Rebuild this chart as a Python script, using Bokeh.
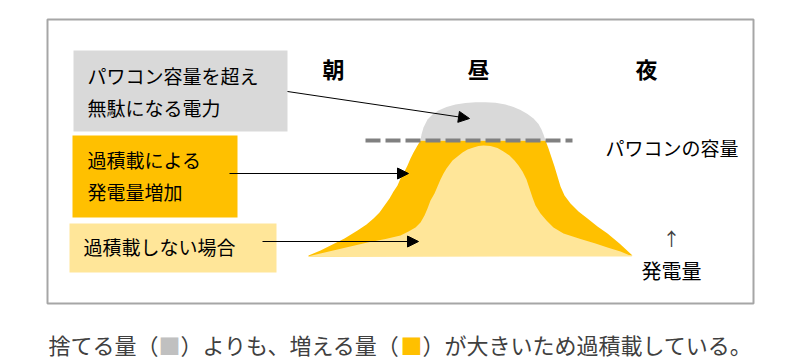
from bokeh.plotting import figure
from bokeh.models import Range1d, Arrow, NormalHead
from bokeh.core.properties import value
from bokeh.embed import file_html
from bokeh.resources import INLINE

FONT = "Noto Sans CJK JP"

# ---- data (diagram coordinates: x = time of day, y = screen-like height; larger y = lower) ----
BASE_Y = 256          # zero generation level
CAPACITY_Y = 140      # inverter (パワコン) capacity level

# over-loaded generation (left rising edge, right falling edge)
OVER_LEFT_X = [308, 320, 330, 344, 357, 366, 373, 379, 384, 389, 393, 397, 400, 404, 407, 410, 413, 417, 420]
OVER_LEFT_Y = [255, 250, 245, 238, 230, 224, 218, 212, 205, 198, 191, 185, 178, 171, 165, 158, 152, 145, 140]
OVER_RIGHT_X = [545, 548, 551, 554, 557, 560, 564, 570, 578, 587, 597, 607, 619, 632]
OVER_RIGHT_Y = [140, 148, 157, 166, 176, 186, 195, 203, 211, 218, 226, 233, 243, 255]

# part above the capacity (wasted)
CLIP_X = [420, 421, 423, 427, 432, 438, 446, 455, 465, 475, 485, 495, 505, 513,
          520, 527, 533, 538, 541, 543, 545]
CLIP_Y = [140, 134, 127, 119, 114, 110, 106.5, 104, 102.5, 101.8, 101.7, 102.3, 104, 106.5,
          109.5, 113.5, 118, 123.5, 129, 134, 140]

# generation without over-loading
NORMAL_X = [307, 337, 367, 385, 400, 408, 415, 420, 424, 427, 430, 434, 437, 440, 443, 446,
            449, 452, 457, 462, 467, 473, 478, 483, 490, 497, 503, 509, 514, 518, 522,
            526, 529, 532, 535, 540, 546, 553, 563, 580, 595, 607, 620, 632]
NORMAL_Y = [256, 249, 242, 238.5, 235, 231, 227, 222, 215, 208, 200, 193, 186, 179, 173, 168,
            164, 160, 156, 152, 149, 147, 145.5, 145, 145.5, 147.5, 151, 155, 160, 165, 171,
            179, 188, 197, 205, 213, 220, 227, 233, 238.5, 243, 247, 251, 256]

TIME_LABELS = ["朝", "昼", "夜"]
TIME_X = [333, 478, 646]

CAPTION_PARTS = ["捨てる量（", "■", "）よりも、増える量（", "■", "）が大きいため過積載している。"]
CAPTION_COLORS = ["#404040", "#c0c0c0", "#404040", "#ffc000", "#404040"]

ORANGE = "#ffc000"
YELLOW = "#ffe699"
GRAY = "#d9d9d9"

W, H = 780, 358
p = figure(width=W, height=H, output_backend="svg", toolbar_location=None,
           x_range=Range1d(0, W), y_range=Range1d(H, 0),
           min_border=0, outline_line_color=None,
           background_fill_color="white", border_fill_color="white")
p.axis.visible = False
p.grid.visible = False

# frame
p.quad(left=[47], right=[753], top=[19], bottom=[303], fill_color=None,
       line_color="#a6a6a6", line_width=2)

# orange over-loaded area
ox = [OVER_LEFT_X[0]] + OVER_LEFT_X + OVER_RIGHT_X
oy = [BASE_Y] + OVER_LEFT_Y + OVER_RIGHT_Y
p.patch(ox, oy, fill_color=ORANGE, line_color=None)

# wasted area above capacity
p.patch(CLIP_X, CLIP_Y, fill_color=GRAY, line_color=None)

# normal generation
p.patch(NORMAL_X, NORMAL_Y, fill_color=YELLOW, line_color=None)

# capacity dashed line
p.line([365, 572], [CAPACITY_Y, CAPACITY_Y], line_color="#808080", line_width=4,
       line_dash="15 5")

# label boxes
p.quad(left=[73, 72, 69], right=[287, 237, 276], top=[50, 135, 223],
       bottom=[131, 217, 272], fill_color=[GRAY, ORANGE, YELLOW], line_color=None)

# arrows
for (xs, ys, xe, ye) in [(287, 91, 469, 118), (229, 173, 408, 173), (262, 241, 418, 241)]:
    p.add_layout(Arrow(end=NormalHead(size=11, fill_color="black", line_color="black"),
                       x_start=xs, y_start=ys, x_end=xe, y_end=ye,
                       line_color="black", line_width=1))

def txt(x, y, s, size, color="#000000", align="left", bold=False):
    p.text(x=[x], y=[y], text=[s], text_font=value(FONT), text_font_size=size,
           text_color=color, text_align=align, text_baseline="middle",
           text_font_style="bold" if bold else "normal")

txt(87, 75, "パワコン容量を超え", "19px")
txt(87, 107, "無駄になる電力", "19px")
txt(87, 159, "過積載による", "19px")
txt(87, 191, "発電量増加", "19px")
txt(83, 246, "過積載しない場合", "19px")
txt(605, 147, "パワコンの容量", "19px")
txt(671, 270, "発電量", "20px", align="center")
txt(671, 237, "↑", "18px", color="#404040", align="center")

for t, x in zip(TIME_LABELS, TIME_X):
    txt(x, 67, t, "22px", align="center", bold=True)

# caption
fs = 22
x0 = 48
idx = 0
for part, col in zip(CAPTION_PARTS, CAPTION_COLORS):
    txt(x0 + idx * fs, 343, part, f"{fs}px", color=col)
    idx += len(part)

open("out.html", "w").write(file_html(p, INLINE))
